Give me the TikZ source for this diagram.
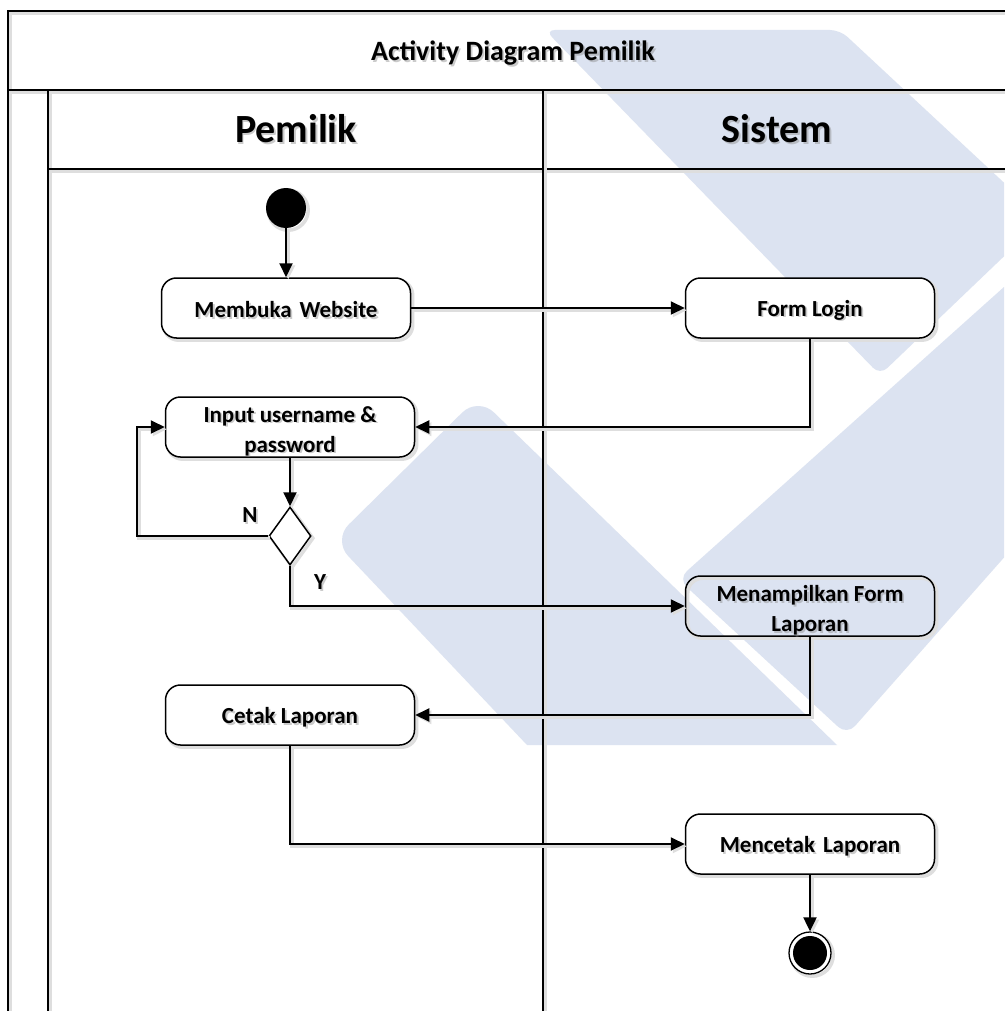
\documentclass[tikz,border=0pt]{standalone}
\usepackage{fontspec}
\setmainfont{Carlito}
\usetikzlibrary{arrows.meta,shapes.geometric}
\definecolor{wm}{RGB}{220,227,241}
\newcommand{\shtxt}[4]{%
  \node[#3, text=black!45, opacity=0.45, xshift=1.8pt, yshift=-1.8pt] (#1s) at #2 {#4};
  \node[#3] (#1) at #2 {#4};}
\begin{document}
\begin{tikzpicture}[x=1pt,y=-1pt,
  sh/.style={preaction={draw=black!13, line width=3.5pt, transform canvas={xshift=2.2pt,yshift=-2.2pt}}},
  frame/.style={line width=2.4pt, line cap=rect, sh},
  act/.style={draw, line width=1.5pt, rounded corners=15pt, minimum width=249pt, minimum height=60pt, fill=white, inner sep=0pt, sh},
  actclear/.style={draw, line width=1.5pt, rounded corners=15pt, minimum width=249pt, minimum height=60pt, inner sep=0pt, sh},
  lbl/.style={font=\fontsize{23}{30}\selectfont\bfseries, align=center, inner sep=0pt},
  titlefont/.style={font=\fontsize{28}{34}\selectfont\bfseries, inner sep=0pt},
  lanefont/.style={font=\fontsize{40}{48}\selectfont\bfseries, inner sep=0pt},
  flow/.style={line width=2pt, -{Triangle[length=14pt,width=13pt]}, sh},
]
\useasboundingbox (0,0) rectangle (1004,1011);
\fill[white] (0,0) rectangle (1004,1011);

% watermark
\begin{scope}
\clip (0,0) rectangle (1004,1011);
\fill[wm, rounded corners=10pt] (690,30) -- (840,30) -- (1043,219) -- (880,375) -- (545,30) -- cycle;
\fill[wm, rounded corners=12pt] (678,579) -- (847,735) -- (1100,449) -- (1100,201) -- cycle;
\fill[wm] (527,745) [rounded corners=22pt] -- (333,540) -- (478,397) [sharp corners] -- (837,745) -- cycle;
\end{scope}

% frame
\draw[frame] (8,1015) -- (8,11) -- (1010,11);
\draw[frame] (8,90) -- (1010,90);
\draw[frame] (48,90) -- (48,1015);
\draw[frame] (48,169) -- (1010,169);
\draw[frame] (543,90) -- (543,1015);

\shtxt{title}{(513,53)}{titlefont}{Activity Diagram Pemilik}
\shtxt{hP}{(296,129)}{lanefont}{Pemilik}
\shtxt{hS}{(777,129)}{lanefont}{Sistem}

% activity nodes
\node[circle, fill=black, minimum size=40pt, inner sep=0pt, sh] (start) at (286,208) {};
\node[act] (mw) at (286,308) {};
\shtxt{mwT}{(286,310)}{lbl}{Membuka\hspace{0.12em} Website}
\node[act] (fl) at (810,308) {};
\shtxt{flT}{(810,310)}{lbl}{Form Login}
\node[act] (inp) at (290,427) {};
\shtxt{inpT}{(290,431)}{lbl}{Input username \&\\password}
\node[diamond, draw, fill=white, line width=1.5pt, minimum width=42pt, minimum height=58pt, inner sep=0pt, sh] (dec) at (290,536) {};
\node[actclear] (mfl) at (810,606) {};
\shtxt{mflT}{(810,610)}{lbl}{Menampilkan Form\\Laporan}
\node[act] (cl) at (290,715) {};
\shtxt{clT}{(290,717)}{lbl}{Cetak Laporan}
\node[act] (ml) at (810,844) {};
\shtxt{mlT}{(810,846)}{lbl}{Mencetak\hspace{0.12em} Laporan}
\node[circle, draw, fill=white, line width=1.3pt, minimum size=42pt, inner sep=0pt, sh] (end) at (810,953) {};
\node[circle, fill=black, minimum size=34pt, inner sep=0pt] (endIn) at (end) {};

\shtxt{nLab}{(250,515)}{lbl}{N}
\shtxt{yLab}{(320,582)}{lbl}{Y}

\coordinate (nL) at (137,536);

% connectors
\draw[flow] (start.south) -- (mw.north);
\draw[flow] (mw.east) -- (fl.west);
\draw[flow] (fl.south) |- (inp.east);
\draw[flow] (inp.south) -- (dec.north);
\draw[flow] (dec.west) -- (nL) |- (inp.west);
\draw[flow] (dec.south) |- (mfl.west);
\draw[flow] (mfl.south) |- (cl.east);
\draw[flow] (cl.south) |- (ml.west);
\draw[flow] (ml.south) -- (end.north);
\end{tikzpicture}
\end{document}
